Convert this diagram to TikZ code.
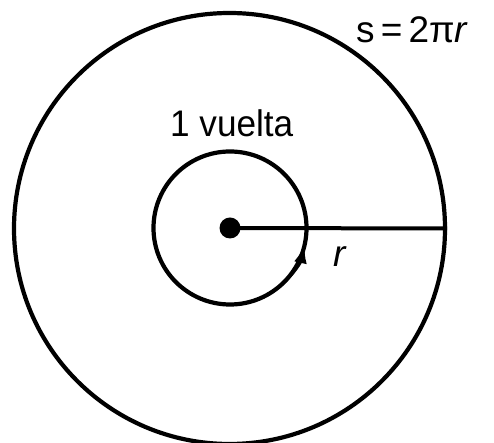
\documentclass[tikz,border=0pt]{standalone}
\usepackage{fontspec}
\setmainfont{Liberation Sans}
\usetikzlibrary{arrows.meta}
\begin{document}
\begin{tikzpicture}[x=1pt,y=1pt,
  ring/.style={circle,draw,line width=4.2pt,inner sep=0pt},
  lbl/.style={font=\fontsize{37}{40}\selectfont,inner sep=0pt,anchor=base west}]
\useasboundingbox (0,0) rectangle (494,443);
\coordinate (O) at (230,215);
\node[ring,minimum size=431pt] (big) at (229.5,214.5) {};
\node[ring,minimum size=153pt] (small) at (O) {};
\node[circle,fill,minimum size=21pt,inner sep=0pt] (dot) at (O) {};
\draw[line width=4pt] (dot.center) -- (big.east);
\draw[line width=3pt,-{Latex[length=18pt,width=13pt]}] ([shift={(-55:76.5)}]O) arc (-55:-13:76.5);
\node[lbl,xscale=0.95] (vuelta) at (170,306) {1 vuelta};
\node[lbl] (r) at (333,176) {\itshape r};
\node[lbl] (s) at (356,400) {s\,=\,2π\textit{r}};
\end{tikzpicture}
\end{document}
